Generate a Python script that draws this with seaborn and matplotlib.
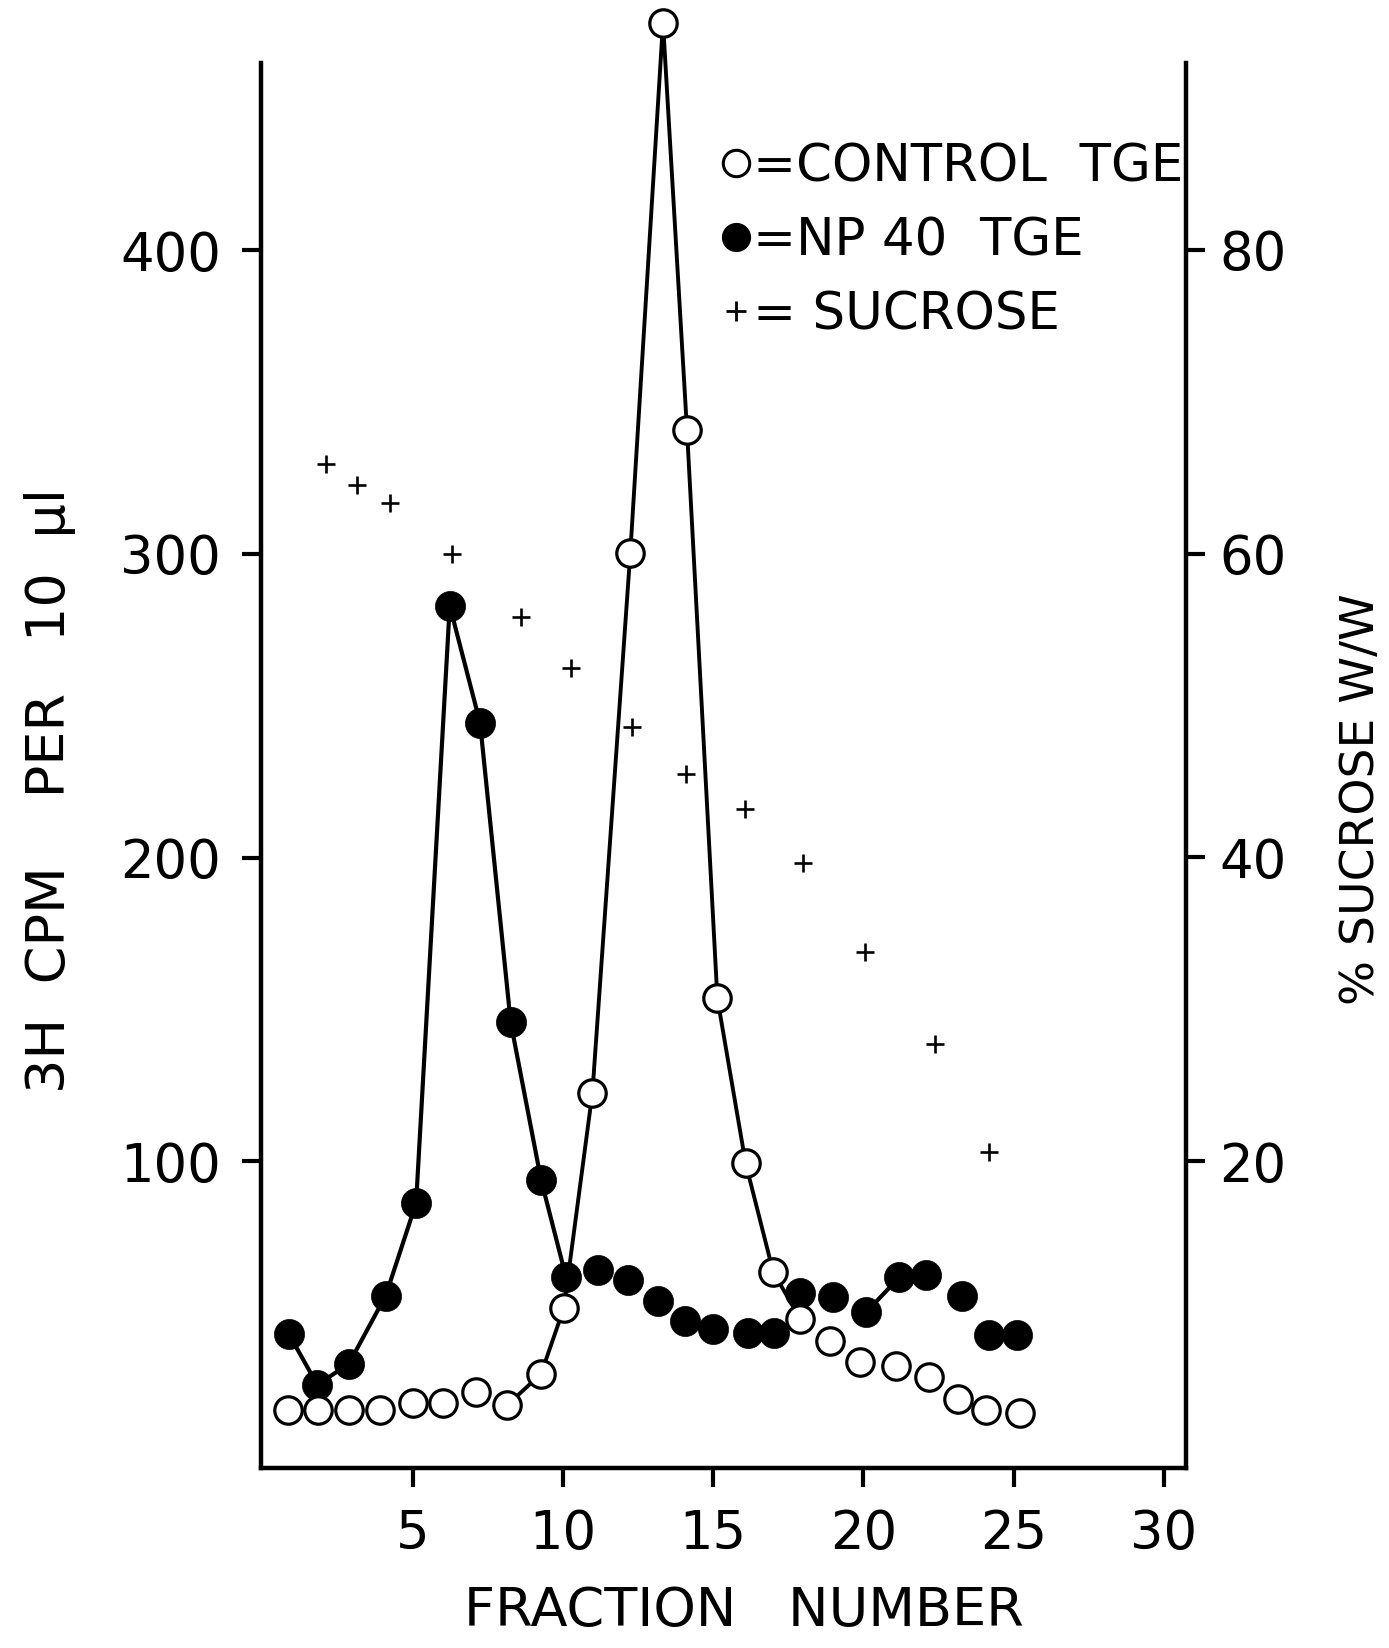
import matplotlib
matplotlib.use('Agg')
import matplotlib.pyplot as plt
from matplotlib.lines import Line2D
import pandas as pd
import seaborn as sns

# values (points were hand plotted, so x is not exactly on the integers)
control_x = [0.85, 1.86, 2.87, 3.92, 5.0, 6.02, 7.1, 8.15, 9.27, 10.03, 10.98, 12.24, 13.33,
             14.13, 15.14, 16.08, 17.0, 17.9, 18.9, 19.9, 21.1, 22.2, 23.15, 24.1, 25.2]
control_cpm = [18.1, 18.1, 18.1, 18.1, 20.5, 20.5, 24.0, 19.8, 30.0, 51.7, 122.6, 300.1, 474.9,
               340.6, 153.7, 99.4, 63.5, 48.1, 40.8, 33.9, 32.6, 29.0, 21.8, 18.1, 17.1]
# only fractions 8..18 of the control curve are joined by a line
control_seg = [0] * 7 + [1] * 11 + [0] * 7

np40_x = [0.88, 1.82, 2.87, 4.10, 5.11, 6.23, 7.24, 8.26, 9.27, 10.1, 11.16, 12.17, 13.16,
          14.06, 14.99, 16.15, 17.02, 17.9, 19.0, 20.1, 21.2, 22.1, 23.3, 24.2, 25.1]
np40_cpm = [43.0, 26.4, 33.3, 55.8, 86.3, 282.9, 244.3, 145.7, 93.9, 61.9, 64.2, 60.9, 54.0,
            47.4, 44.8, 43.5, 43.5, 56.7, 55.2, 50.4, 61.8, 62.6, 55.6, 42.8, 42.8]
# joined: fractions 1..10 and 20..22
np40_seg = [1] * 10 + [0] * 9 + [2] * 3 + [0] * 3

sucrose_x = [2.11, 3.15, 4.24, 6.3, 8.6, 10.28, 12.31, 14.1, 16.05, 18.0, 20.04, 22.4, 24.2]
sucrose_pct = [65.9, 64.5, 63.3, 60.0, 55.8, 52.5, 48.6, 45.5, 43.2, 39.6, 33.8, 27.7, 20.6]

cpm_ticks = [100, 200, 300, 400]
pct_ticks = [20, 40, 60, 80]
frac_ticks = [5, 10, 15, 20, 25, 30]

control = pd.DataFrame({'x': control_x, 'y': control_cpm, 'seg': control_seg})
np40 = pd.DataFrame({'x': np40_x, 'y': np40_cpm, 'seg': np40_seg})
sucrose = pd.DataFrame({'x': sucrose_x, 'y': sucrose_pct})

sns.set_style('ticks')
plt.rcParams['font.family'] = ['DejaVu Sans']
plt.rcParams['axes.linewidth'] = 3.2
for key in ['text.color', 'axes.labelcolor', 'axes.edgecolor', 'xtick.color', 'ytick.color']:
    plt.rcParams[key] = 'black'

fig = plt.figure(figsize=(13.89, 16.48), dpi=100)
ax = fig.add_axes([0.188, 0.1092, 0.666, 0.8526])
ax2 = ax.twinx()

# connecting lines
sns.lineplot(data=control[control.seg > 0], x='x', y='y', units='seg', estimator=None,
             sort=False, color='black', linewidth=2.8, ax=ax, clip_on=False, zorder=2)
sns.lineplot(data=np40[np40.seg > 0], x='x', y='y', units='seg', estimator=None,
             sort=False, color='black', linewidth=3.0, ax=ax, clip_on=False, zorder=2)

# markers
sns.scatterplot(data=np40, x='x', y='y', s=470, color='black', edgecolor='black',
                linewidth=0.5, ax=ax, clip_on=False, zorder=3)
sns.scatterplot(data=control, x='x', y='y', s=390, color='white', edgecolor='black',
                linewidth=2.3, ax=ax, clip_on=False, zorder=4)
sns.scatterplot(data=sucrose, x='x', y='y', marker='+', s=180, color='black',
                linewidth=1.9, ax=ax2, zorder=3)

ax.set_xlim(-0.05, 30.75)
ax.set_ylim(-1, 461.6)
ax2.set_ylim(-0.2, 92.3)
ax.set_xticks(frac_ticks)
ax.set_yticks(cpm_ticks)
ax2.set_yticks(pct_ticks)

for a in (ax, ax2):
    a.spines['top'].set_visible(False)
ax.spines['right'].set_visible(False)
ax2.spines['left'].set_visible(False)
ax2.spines['bottom'].set_visible(False)
ax2.spines['right'].set_linewidth(3.2)

ax.tick_params(axis='x', direction='out', length=14, width=3, labelsize=38, pad=15)
ax.tick_params(axis='y', direction='out', length=14, width=3, labelsize=38, pad=15)
ax2.tick_params(axis='y', direction='out', length=14, width=3, labelsize=38, pad=10)

ax.set_xlabel('FRACTION   NUMBER', fontsize=39, va='center')
ax.xaxis.set_label_coords(0.522, -0.1018)
ax.set_ylabel('3H  CPM    PER   10  \u00b5l', fontsize=39, va='center')
ax.yaxis.set_label_coords(-0.228, 0.482)
ax2.set_ylabel('% SUCROSE W/W', fontsize=34, va='center', rotation=90)
ax2.yaxis.set_label_coords(1.19, 0.476)

handles = [
    Line2D([], [], ls='none', marker='o', ms=19, mfc='white', mec='black', mew=2.2),
    Line2D([], [], ls='none', marker='o', ms=20, mfc='black', mec='black'),
    Line2D([], [], ls='none', marker='+', ms=14, mec='black', mew=2),
]
labels = ['=CONTROL  TGE', '=NP 40  TGE', '= SUCROSE']
ax.legend(handles, labels, loc='upper left', bbox_to_anchor=(0.4962, 0.9435),
          frameon=False, fontsize=37, handlelength=0.6, handletextpad=0.04,
          borderpad=0, labelspacing=0.466, borderaxespad=0)

fig.savefig('out.png', dpi=100)
